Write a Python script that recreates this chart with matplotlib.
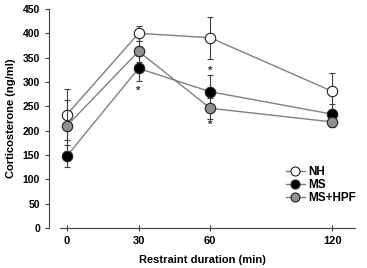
import matplotlib
matplotlib.use("Agg")
import matplotlib.pyplot as plt
from matplotlib.lines import Line2D

plt.rcParams['font.family'] = ['Liberation Sans', 'DejaVu Sans']
plt.rcParams['font.weight'] = 'bold'

# datos
times = ["0", "30", "60", "120"]
xpos = [0, 1, 2, 3.7]

nh = [233, 400, 391, 281]
nh_err = [53, 16, 43, 38]
ms = [148, 328, 280, 234]
ms_err = [22, 25, 35, 20]
hpf = [210, 363, 246, 218]
hpf_err = [52, 22, 22, 10]

# asteriscos (posicion x, valor y)
star_x = [1, 2, 2]
star_y = [282, 322, 212]

fig = plt.figure(figsize=(3.67, 2.68), dpi=100)
ax = fig.add_axes([49/367, 40/268, 306/367, 219/268])

line_kw = dict(color="#808080", lw=1.0, ms=7.5, capsize=2, elinewidth=0.8,
               ecolor="#404040", capthick=0.8, markeredgecolor="#202020",
               markeredgewidth=0.8)
series = [("NH", nh, nh_err, "white"), ("MS", ms, ms_err, "black"),
          ("MS+HPF", hpf, hpf_err, "#909090")]
handles = []
for i, (name, vals, err, fc) in enumerate(series):
    ax.errorbar(xpos, vals, yerr=err, fmt="-o", markerfacecolor=fc, zorder=3 + i, **line_kw)
    handles.append(Line2D([], [], color="#808080", lw=1.0, marker="o", ms=6.5,
                          markerfacecolor=fc, markeredgecolor="#202020",
                          markeredgewidth=0.8, label=name))

for sx, sy in zip(star_x, star_y):
    ax.text(sx, sy, "*", ha="center", va="center", fontsize=8, color="#303030")

ax.set_ylim(0, 450)
ax.set_xlim(-0.25, 4.02)
ax.set_yticks(range(0, 451, 50))
ax.set_xticks(xpos)
ax.set_xticklabels(times)
ax.spines['top'].set_visible(False)
ax.spines['right'].set_visible(False)
ax.spines['bottom'].set_bounds(-0.1, 4.02)
ax.spines['left'].set_color("#404040")
ax.spines['bottom'].set_color("#404040")
ax.tick_params(axis='y', direction='out', length=3, labelsize=7.5, color="#404040")
ax.tick_params(axis='x', direction='inout', length=5, labelsize=8, color="#404040")
ax.set_ylabel("Corticosterone (ng/ml)", fontsize=8, fontweight="bold", labelpad=5)
ax.set_xlabel("Restraint duration (min)", fontsize=8, fontweight="bold", labelpad=6)

ax.legend(handles=handles, loc="lower right", bbox_to_anchor=(1.03, 0.07), frameon=False,
          fontsize=8.5, handlelength=1.6, handletextpad=0.3, labelspacing=0.1, borderpad=0.2)

plt.savefig("out.png", dpi=100)
